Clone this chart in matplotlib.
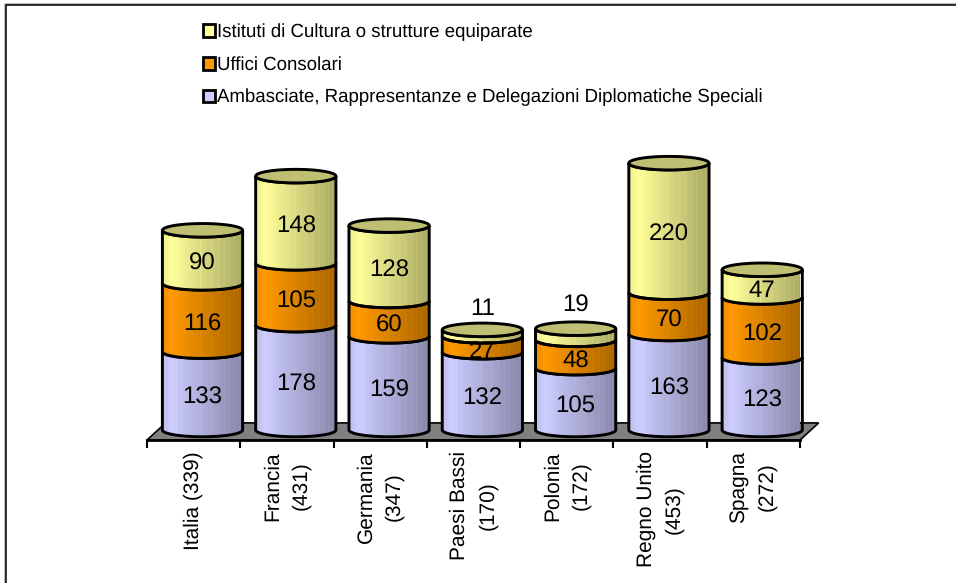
import numpy as np
import matplotlib
matplotlib.use('Agg')
import matplotlib.pyplot as plt
from matplotlib.lines import Line2D
from matplotlib.patches import Patch, Polygon

plt.rcParams['font.family'] = ['Liberation Sans', 'DejaVu Sans']
plt.rcParams['text.hinting'] = 'no_hinting'
plt.rcParams['text.hinting_factor'] = 8

countries = ['Italia (339)', 'Francia\n(431)', 'Germania\n(347)', 'Paesi Bassi\n(170)',
             'Polonia\n(172)', 'Regno Unito\n(453)', 'Spagna\n(272)']
ambasciate = [133, 178, 159, 132, 105, 163, 123]
uffici = [116, 105, 60, 27, 48, 70, 102]
istituti = [90, 148, 128, 11, 19, 220, 47]

series_names = ['Ambasciate, Rappresentanze e Delegazioni Diplomatiche Speciali',
                'Uffici Consolari', 'Istituti di Cultura o strutture equiparate']
series_values = [ambasciate, uffici, istituti]
colors = ['#ccccff', '#ff9900', '#ffff99']
top_color = '#bfbf73'

half_w = 0.43
ell_h = 11.5
bar_shift = 0.095
# lighter stripes across the cylinders, in fractions of the width
stripes = [0.1, 0.18, 0.48, 0.62, 0.7, 0.78, 0.84, 0.9, 0.95]


def shade(color):
    # horizontal gradient: bright just left of centre, dark to the right
    rgb = np.array(matplotlib.colors.to_rgb(color))
    t = np.linspace(0, 1, 160)
    k = np.interp(t, [0, 0.12, 0.5, 1], [0.93, 1.0, 0.85, 0.66])
    for s in stripes:
        k[int(s * 159)] += 0.07
    return np.clip(k[:, None] * rgb, 0, 1)[None, :, :]


def arc(x, y, n=40):
    a = np.linspace(np.pi, 2 * np.pi, n)
    return np.column_stack([x + half_w * np.cos(a), y + ell_h * np.sin(a)])


def draw_segment(ax, x, y0, y1, color, z):
    pts = np.vstack([arc(x, y0), arc(x, y1)[::-1]])
    poly = Polygon(pts, closed=True, transform=ax.transData, fc='none', ec='none')
    ax.add_patch(poly)
    im = ax.imshow(shade(color), extent=(x - half_w, x + half_w, y0 - ell_h, y1),
                   aspect='auto', zorder=z, interpolation='bilinear')
    im.set_clip_path(poly)
    ax.add_patch(Polygon(pts, closed=True, fc='none', ec='black', lw=2.1, zorder=z + 0.1,
                         clip_on=False))


fig = plt.figure(figsize=(9.56, 5.83), dpi=100)
ax = fig.add_axes([147 / 956, (583 - 440) / 583, 653 / 956, 440 / 583])

# gray floor
ax.add_patch(Polygon([(-0.5, -17), (6.5, -17), (6.7, 12), (-0.3, 12)], closed=True,
                     fc='#808080', ec='black', lw=1.2, clip_on=False, zorder=1))

for i in range(len(countries)):
    x = i + bar_shift
    bottom = 0
    for vals, c in zip(series_values, colors):
        z = 3 + bottom / 1000
        draw_segment(ax, x, bottom, bottom + vals[i], c, z)
        bottom += vals[i]
    theta = np.linspace(0, 2 * np.pi, 80)
    ax.add_patch(Polygon(np.column_stack([x + half_w * np.cos(theta), bottom + ell_h * np.sin(theta)]),
                         closed=True, fc=top_color, ec='black', lw=2.1, zorder=4, clip_on=False))

    y = 0
    for vals in series_values:
        v = vals[i]
        if v < 20:
            ty = bottom + (35 if v == 11 else 40)
        else:
            ty = y + v / 2 - 12
        ax.text(x, ty, str(v), ha='center', va='center', fontsize=17.3, color='black', zorder=6)
        y += v

ax.set_xlim(-0.5, 6.5)
ax.set_ylim(-17, 730)
for s in ['top', 'left', 'right']:
    ax.spines[s].set_visible(False)
ax.spines['bottom'].set_linewidth(2)
ax.spines['bottom'].set_zorder(2)
ax.patch.set_visible(False)
ax.set_yticks([])
ax.set_xticks(np.arange(-0.5, 7, 1))
ax.set_xticklabels([])
ax.tick_params(axis='x', which='major', length=6, width=1.5, color='black')
ax.set_xticks(np.arange(7), minor=True)
ax.set_xticklabels(countries, minor=True, rotation=90, fontsize=15, ha='center', va='top',
                   multialignment='center', linespacing=1.55)
ax.tick_params(axis='x', which='minor', length=0, pad=8)

handles = [Patch(fc=c, ec='black', lw=2) for c in colors[::-1]]
fig.legend(handles, series_names[::-1], loc='upper left', bbox_to_anchor=(203 / 956, 1 - 23.5 / 583),
           frameon=False, fontsize=13.4, handlelength=0.66, handleheight=0.66, handletextpad=0.1,
           labelspacing=0.8, borderpad=0, borderaxespad=0)

# only the top and left edges of the frame show, gray outside and black inside
for off, col in [(3.5, '#a6a6a6'), (5, 'black')]:
    fig.add_artist(Line2D([(off + 1) / 956, (off + 1) / 956, 1], [0, 1 - off / 583, 1 - off / 583],
                          transform=fig.transFigure, color=col, lw=1.1))

fig.savefig('out.png', dpi=100)
